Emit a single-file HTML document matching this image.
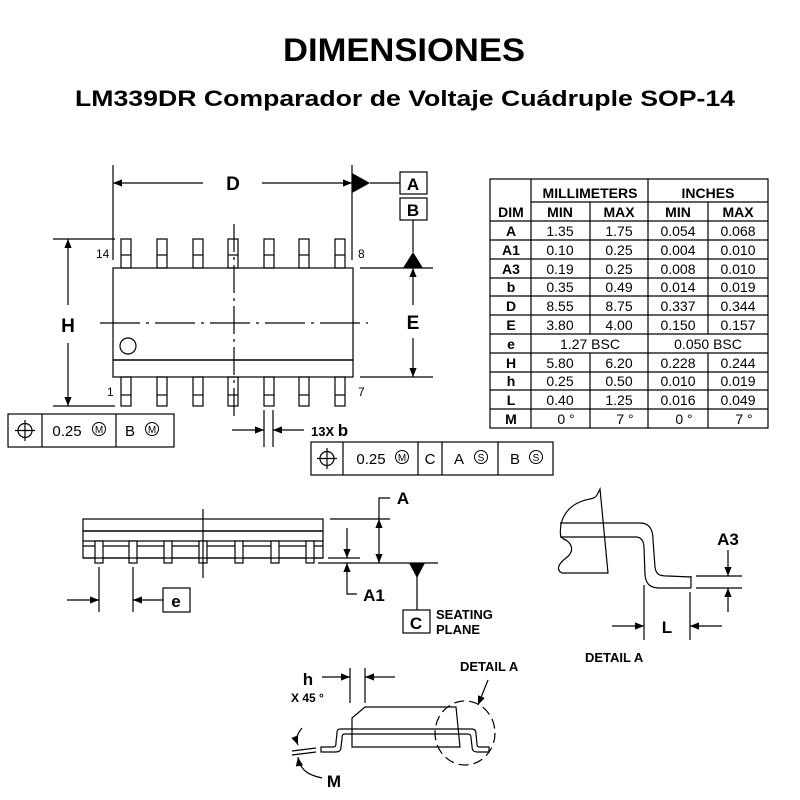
<!DOCTYPE html>
<html><head><meta charset="utf-8"><style>
html,body{margin:0;padding:0;background:#fff}
svg{display:block}
text{font-family:"Liberation Sans",Arial,sans-serif}
</style></head><body>
<svg width="800" height="800" viewBox="0 0 800 800" xmlns="http://www.w3.org/2000/svg">
<defs>
<marker id="ar" viewBox="0 0 10 10" refX="10" refY="5" markerWidth="12" markerHeight="9" orient="auto-start-reverse" markerUnits="userSpaceOnUse"><path d="M0,1 L10,5 L0,9 Z" fill="#000"/></marker>
</defs>
<text x="404" y="61" font-size="32" font-weight="bold" text-anchor="middle" textLength="242" lengthAdjust="spacingAndGlyphs">DIMENSIONES</text>
<text x="405" y="106" font-size="22" font-weight="bold" text-anchor="middle" textLength="660" lengthAdjust="spacingAndGlyphs">LM339DR Comparador de Voltaje Cuádruple SOP-14</text>

<g stroke="#000" stroke-width="1.2" fill="none">
<rect x="113" y="268" width="240" height="109"/>
<line x1="113" y1="360" x2="353" y2="360" stroke-width="1.6"/>
<circle cx="128" cy="346" r="8"/>
<g>
<rect x="121" y="239" width="10" height="29"/><line x1="121" y1="255" x2="131" y2="255"/>
<rect x="157" y="239" width="10" height="29"/><line x1="157" y1="255" x2="167" y2="255"/>
<rect x="193" y="239" width="10" height="29"/><line x1="193" y1="255" x2="203" y2="255"/>
<rect x="228" y="239" width="10" height="29"/><line x1="228" y1="255" x2="238" y2="255"/>
<rect x="264" y="239" width="10" height="29"/><line x1="264" y1="255" x2="274" y2="255"/>
<rect x="299" y="239" width="10" height="29"/><line x1="299" y1="255" x2="309" y2="255"/>
<rect x="335" y="239" width="10" height="29"/><line x1="335" y1="255" x2="345" y2="255"/>
</g>
<g transform="translate(0,138)">
<rect x="121" y="239" width="10" height="29"/><line x1="121" y1="257" x2="131" y2="257"/>
<rect x="157" y="239" width="10" height="29"/><line x1="157" y1="257" x2="167" y2="257"/>
<rect x="193" y="239" width="10" height="29"/><line x1="193" y1="257" x2="203" y2="257"/>
<rect x="228" y="239" width="10" height="29"/><line x1="228" y1="257" x2="238" y2="257"/>
<rect x="264" y="239" width="10" height="29"/><line x1="264" y1="257" x2="274" y2="257"/>
<rect x="299" y="239" width="10" height="29"/><line x1="299" y1="257" x2="309" y2="257"/>
<rect x="335" y="239" width="10" height="29"/><line x1="335" y1="257" x2="345" y2="257"/>
</g>
<line x1="234" y1="224" x2="234" y2="420" stroke-dasharray="28,5,3,5"/>
<line x1="100" y1="323" x2="368" y2="323" stroke-dasharray="40,6,3,6"/>
<line x1="113" y1="165" x2="113" y2="260"/>
<line x1="352" y1="165" x2="352" y2="260"/>
<line x1="113" y1="183" x2="203" y2="183" marker-start="url(#ar)"/>
<line x1="262" y1="183" x2="352" y2="183" marker-end="url(#ar)"/>
<line x1="370" y1="183" x2="400" y2="183"/>
<rect x="400" y="172" width="27" height="22"/>
<rect x="400" y="198" width="27" height="22"/>
<line x1="413" y1="220" x2="413" y2="252"/>
<line x1="360" y1="268" x2="433" y2="268"/>
<line x1="360" y1="377" x2="433" y2="377"/>
<line x1="413" y1="268" x2="413" y2="305" marker-start="url(#ar)"/>
<line x1="413" y1="338" x2="413" y2="377" marker-end="url(#ar)"/>
<line x1="53" y1="239" x2="115" y2="239"/>
<line x1="53" y1="406" x2="115" y2="406"/>
<line x1="68" y1="239" x2="68" y2="305" marker-start="url(#ar)"/>
<line x1="68" y1="343" x2="68" y2="406" marker-end="url(#ar)"/>
<line x1="264" y1="410" x2="264" y2="447"/>
<line x1="273" y1="410" x2="273" y2="447"/>
<line x1="232" y1="430" x2="264" y2="430" marker-end="url(#ar)"/>
<line x1="304" y1="430" x2="273" y2="430" marker-end="url(#ar)"/>
<rect x="8" y="414" width="166" height="33"/>
<line x1="42" y1="414" x2="42" y2="447"/><line x1="116" y1="414" x2="116" y2="447"/>
<circle cx="25" cy="430.5" r="7"/><line x1="15" y1="430.5" x2="35" y2="430.5"/><line x1="25" y1="420" x2="25" y2="441"/>
<circle cx="99" cy="429" r="6.5" stroke-width="1"/><circle cx="152" cy="429" r="6.5" stroke-width="1"/>
<rect x="311" y="442" width="242" height="33"/>
<line x1="343" y1="442" x2="343" y2="475"/><line x1="418" y1="442" x2="418" y2="475"/>
<line x1="442" y1="442" x2="442" y2="475"/><line x1="498" y1="442" x2="498" y2="475"/>
<circle cx="327" cy="458.5" r="7"/><line x1="317" y1="458.5" x2="337" y2="458.5"/><line x1="327" y1="448" x2="327" y2="469"/>
<circle cx="402" cy="457" r="6.5" stroke-width="1"/><circle cx="481" cy="457" r="6.5" stroke-width="1"/><circle cx="536" cy="457" r="6.5" stroke-width="1"/>

<rect x="83" y="519" width="240" height="39"/>
<line x1="83" y1="531" x2="323" y2="531" stroke-width="1.6"/>
<line x1="83" y1="541" x2="323" y2="541"/>
<line x1="83" y1="546" x2="323" y2="546"/>
<g>
<rect x="95" y="541" width="8" height="22" fill="#fff"/>
<rect x="129" y="541" width="8" height="22" fill="#fff"/>
<rect x="164" y="541" width="8" height="22" fill="#fff"/>
<rect x="199" y="541" width="8" height="22" fill="#fff"/>
<rect x="235" y="541" width="8" height="22" fill="#fff"/>
<rect x="271" y="541" width="8" height="22" fill="#fff"/>
<rect x="306" y="541" width="8" height="22" fill="#fff"/>
</g>
<line x1="83" y1="558" x2="323" y2="558"/>
<line x1="203" y1="509" x2="203" y2="578"/>
<line x1="330" y1="519" x2="390" y2="519"/>
<line x1="328" y1="558" x2="360" y2="558"/>
<line x1="318" y1="563" x2="438" y2="563"/>
<line x1="379" y1="519" x2="379" y2="563" marker-start="url(#ar)" marker-end="url(#ar)"/>
<polyline points="379,519 379,498 390,498"/>
<line x1="347" y1="528" x2="347" y2="558" marker-end="url(#ar)"/>
<polyline points="357,594 347,594 347,563" marker-end="url(#ar)"/>
<line x1="417" y1="570" x2="417" y2="610"/>
<rect x="403" y="610" width="27" height="23"/>
<line x1="99" y1="567" x2="99" y2="612"/>
<line x1="133" y1="567" x2="133" y2="612"/>
<line x1="67" y1="600" x2="99" y2="600" marker-end="url(#ar)"/>
<line x1="163" y1="600" x2="133" y2="600" marker-end="url(#ar)"/>
<rect x="163" y="588" width="27" height="24"/>

<path d="M600,489 L608,573 L562,573 C556,570 558,564 566,558 C574,552 573,545 566,540 C559,538 560,533 561,524 C564,512 572,505 580,502 C588,498 594,500 597,495 Z" fill="#fff"/>
<path d="M560,523 L640,523 C650,523 653,530 653,540 L655,567 C656,575 660,576 668,576 L691,577"/>
<path d="M560,537 L636,537 C641,537 644,541 644,548 L645,575 C646,585 651,588 660,588 L691,588"/>
<line x1="691" y1="576" x2="691" y2="588"/>
<line x1="696" y1="576" x2="742" y2="576"/>
<line x1="696" y1="588" x2="742" y2="588"/>
<line x1="728" y1="550" x2="728" y2="576" marker-end="url(#ar)"/>
<line x1="728" y1="612" x2="728" y2="588" marker-end="url(#ar)"/>
<line x1="644" y1="585" x2="644" y2="640"/>
<line x1="690" y1="592" x2="690" y2="640"/>
<line x1="612" y1="626" x2="644" y2="626" marker-end="url(#ar)"/>
<line x1="722" y1="626" x2="690" y2="626" marker-end="url(#ar)"/>

<path d="M352,747 L352,718 L365,707 L456,707 L460,747 Z"/>
<path d="M321,747 L333,747 C336,747 336,745 336,742 L337,733 C337,730 338,729 341,729 L472,729 C475,729 476,731 476,734 L477,744 C477,747 478,747 481,747 L489,747 L489,752 L478,752 C473,752 472,750 472,746 L471,738 C471,735 470,734 467,734 L345,734 C342,734 342,736 342,739 L341,747 C341,751 339,752 335,752 L321,752 Z" fill="none"/>
<ellipse cx="465" cy="733" rx="30" ry="32" stroke-dasharray="10,5"/>
<line x1="350" y1="668" x2="350" y2="703"/>
<line x1="365" y1="668" x2="365" y2="703"/>
<line x1="322" y1="677" x2="350" y2="677" marker-end="url(#ar)"/>
<line x1="395" y1="677" x2="365" y2="677" marker-end="url(#ar)"/>
<path d="M488,680 L478,705" marker-end="url(#ar)"/>
<path d="M302,728 C296,735 296,740 298,745" marker-end="url(#ar)"/>
<path d="M322,778 C308,775 300,770 298,757" marker-end="url(#ar)"/>
<line x1="292" y1="751" x2="316" y2="748"/>
<line x1="292" y1="755" x2="316" y2="752"/>
</g>
<g fill="#000">
<polygon points="352,173 370,183 352,193"/>
<polygon points="403,268 413,252 423,268"/>
<polygon points="409,563 425,563 417,578"/>
</g>

<g font-weight="bold" font-size="19" text-anchor="middle">
<text x="233" y="190">D</text>
<text x="413" y="190" font-size="17">A</text>
<text x="413" y="216" font-size="17">B</text>
<text x="413" y="329">E</text>
<text x="68" y="332">H</text>
<text x="403" y="504" font-size="17">A</text>
<text x="374" y="601" font-size="17">A1</text>
<text x="416" y="629" font-size="17">C</text>
<text x="176" y="607" font-size="17">e</text>
<text x="728" y="545" font-size="17">A3</text>
<text x="667" y="633" font-size="17">L</text>
<text x="308" y="685" font-size="17">h</text>
<text x="334" y="787" font-size="17">M</text>
</g>
<g font-weight="bold" font-size="13">
<text x="436" y="619">SEATING</text>
<text x="436" y="634">PLANE</text>
<text x="460" y="671">DETAIL A</text>
<text x="585" y="662">DETAIL A</text>
<text x="291" y="702" font-size="12">X 45 °</text>
<text x="311" y="436">13X <tspan font-size="17">b</tspan></text>
</g>
<g font-size="12">
<text x="96" y="258">14</text>
<text x="358" y="258">8</text>
<text x="107" y="396">1</text>
<text x="358" y="396">7</text>
</g>
<g font-size="15" text-anchor="middle">
<text x="67" y="436">0.25</text>
<text x="99" y="433" font-size="10">M</text>
<text x="130" y="436">B</text>
<text x="152" y="433" font-size="10">M</text>
<text x="371" y="464">0.25</text>
<text x="402" y="461" font-size="10">M</text>
<text x="430" y="464">C</text>
<text x="459" y="464">A</text>
<text x="481" y="461" font-size="10">S</text>
<text x="515" y="464">B</text>
<text x="536" y="461" font-size="10">S</text>
</g>

<g stroke="#000" stroke-width="1.2" fill="none">
<rect x="490" y="179" width="278" height="249"/>
<line x1="531" y1="179" x2="531" y2="428"/>
<line x1="648" y1="179" x2="648" y2="428"/>
<line x1="590" y1="202" x2="590" y2="334"/><line x1="590" y1="353" x2="590" y2="428"/>
<line x1="708" y1="202" x2="708" y2="334"/><line x1="708" y1="353" x2="708" y2="428"/>
<line x1="531" y1="202" x2="768" y2="202"/>
<line x1="490" y1="221" x2="768" y2="221"/>
<line x1="490" y1="240" x2="768" y2="240"/>
<line x1="490" y1="259" x2="768" y2="259"/>
<line x1="490" y1="278" x2="768" y2="278"/>
<line x1="490" y1="296" x2="768" y2="296"/>
<line x1="490" y1="315" x2="768" y2="315"/>
<line x1="490" y1="334" x2="768" y2="334"/>
<line x1="490" y1="353" x2="768" y2="353"/>
<line x1="490" y1="372" x2="768" y2="372"/>
<line x1="490" y1="390" x2="768" y2="390"/>
<line x1="490" y1="409" x2="768" y2="409"/>
</g>
<g font-size="14" text-anchor="middle">
<g font-weight="bold">
<text x="590" y="198">MILLIMETERS</text><text x="708" y="198">INCHES</text>
<text x="511" y="217">DIM</text><text x="560" y="217">MIN</text><text x="619" y="217">MAX</text><text x="678" y="217">MIN</text><text x="738" y="217">MAX</text>
<text x="511" y="236">A</text><text x="511" y="255">A1</text><text x="511" y="274">A3</text><text x="511" y="292">b</text><text x="511" y="311">D</text><text x="511" y="330">E</text><text x="511" y="349">e</text><text x="511" y="368">H</text><text x="511" y="386">h</text><text x="511" y="405">L</text><text x="511" y="424">M</text>
</g>
<g>
<text x="560" y="236">1.35</text><text x="619" y="236">1.75</text><text x="678" y="236">0.054</text><text x="738" y="236">0.068</text>
<text x="560" y="255">0.10</text><text x="619" y="255">0.25</text><text x="678" y="255">0.004</text><text x="738" y="255">0.010</text>
<text x="560" y="274">0.19</text><text x="619" y="274">0.25</text><text x="678" y="274">0.008</text><text x="738" y="274">0.010</text>
<text x="560" y="292">0.35</text><text x="619" y="292">0.49</text><text x="678" y="292">0.014</text><text x="738" y="292">0.019</text>
<text x="560" y="311">8.55</text><text x="619" y="311">8.75</text><text x="678" y="311">0.337</text><text x="738" y="311">0.344</text>
<text x="560" y="330">3.80</text><text x="619" y="330">4.00</text><text x="678" y="330">0.150</text><text x="738" y="330">0.157</text>
<text x="590" y="349">1.27 BSC</text><text x="708" y="349">0.050 BSC</text>
<text x="560" y="368">5.80</text><text x="619" y="368">6.20</text><text x="678" y="368">0.228</text><text x="738" y="368">0.244</text>
<text x="560" y="386">0.25</text><text x="619" y="386">0.50</text><text x="678" y="386">0.010</text><text x="738" y="386">0.019</text>
<text x="560" y="405">0.40</text><text x="619" y="405">1.25</text><text x="678" y="405">0.016</text><text x="738" y="405">0.049</text>
<text x="566" y="424">0 °</text><text x="625" y="424">7 °</text><text x="684" y="424">0 °</text><text x="744" y="424">7 °</text>
</g>
</g>
</svg>
</body></html>
